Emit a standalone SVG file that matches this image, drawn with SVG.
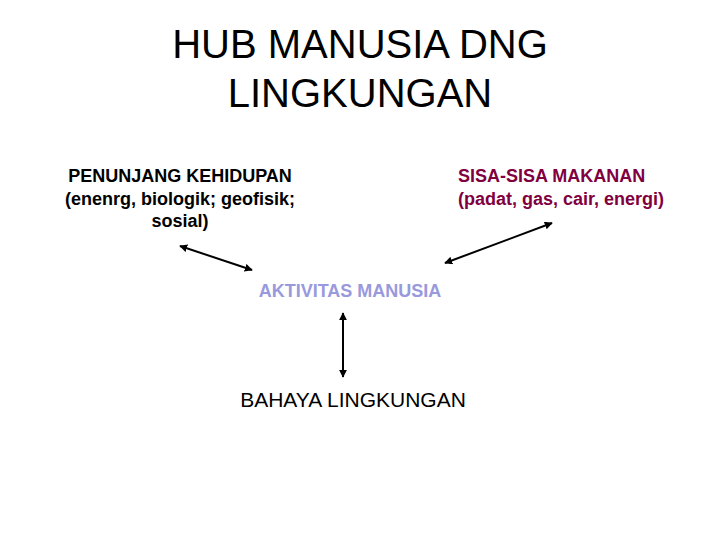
<svg xmlns="http://www.w3.org/2000/svg" width="720" height="540" viewBox="0 0 720 540">
<style>
text{font-family:"Liberation Sans",Arial,sans-serif}
.b{font-weight:bold;font-size:18px}
.c{stroke:#000;stroke-width:2;fill:none;marker-start:url(#a);marker-end:url(#a)}
</style>
<defs>
<marker id="a" viewBox="0 0 10 10" refX="9" refY="5" markerWidth="4" markerHeight="4" orient="auto-start-reverse"><path d="M0,0L10,5L0,10z" fill="#000"/></marker>
</defs>
<rect width="720" height="540" fill="#fff"/>
<g id="title"><text x="360" y="58" font-size="40" text-anchor="middle">HUB MANUSIA DNG</text><text x="360" y="107" font-size="40" text-anchor="middle">LINGKUNGAN</text></g>
<g id="penunjang"><text class="b" x="180" y="182" text-anchor="middle">PENUNJANG KEHIDUPAN</text><text class="b" x="180" y="205" text-anchor="middle">(enenrg, biologik; geofisik;</text><text class="b" x="180" y="227" text-anchor="middle">sosial)</text></g>
<g id="sisa" fill="#800040"><text class="b" x="458" y="182">SISA-SISA MAKANAN</text><text class="b" x="458" y="205">(padat, gas, cair, energi)</text></g>
<g id="aktivitas"><text class="b" x="350" y="297" text-anchor="middle" fill="#9999dd">AKTIVITAS MANUSIA</text></g>
<g id="bahaya"><text x="353" y="407" font-size="21" text-anchor="middle">BAHAYA LINGKUNGAN</text></g>
<g id="connectors">
<line class="c" x1="180" y1="246" x2="252" y2="270"/>
<line class="c" x1="552" y1="223" x2="445" y2="263"/>
<line class="c" x1="343" y1="313" x2="343" y2="377"/>
</g>
</svg>
